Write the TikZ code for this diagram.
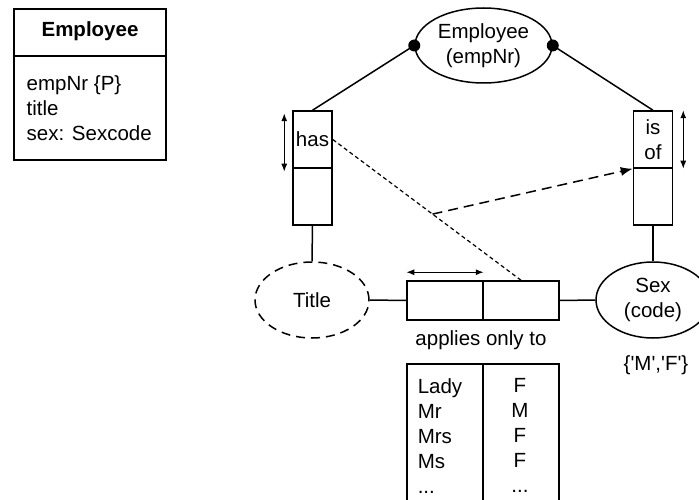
\documentclass[tikz,border=0pt]{standalone}
\usepackage{fontspec}
\setmainfont{Liberation Sans}
\usetikzlibrary{shapes.geometric,arrows.meta}

\tikzset{
  ent/.style={draw,ellipse,line width=1.5pt,minimum width=114pt,minimum height=76pt,inner sep=0pt,align=center},
  cell/.style={draw,rectangle,line width=1.5pt,minimum width=39pt,minimum height=57pt,inner sep=0pt,align=center},
  hcell/.style={draw,rectangle,line width=1.5pt,minimum width=76pt,minimum height=39pt,inner sep=0pt},
  uq/.style={line width=1.1pt,{Latex[length=8pt,width=6pt]}-{Latex[length=8pt,width=6pt]}},
}

\begin{document}
\begin{tikzpicture}[x=1pt,y=-1pt,font=\fontsize{20.5}{25}\selectfont,line width=1.5pt]
  \useasboundingbox (0,0) rectangle (699,500);
  % class box
  \draw (14,9) rectangle (166,160);
  \draw (14,56)--(166,56);
  \node[font=\fontsize{20.5}{25}\selectfont\bfseries] (clsName) at (90,31) {Employee};
  \node[anchor=north west,inner sep=0pt,align=left] (clsAttr) at (26,74.5) {empNr \{P\}\\title\\sex: Sexcode};
  % object types
  \node[ent,minimum width=137pt,minimum height=75pt] (emp) at (483.5,45.5) {Employee\\(empNr)};
  \node[ent,dashed,dash pattern=on 9pt off 6pt] (title) at (312,300) {Title};
  \node[ent] (sex) at (653,300) {Sex\\(code)};
  % roles
  \node[cell] (hasA) at (312.5,139.5) {has};
  \node[cell] (hasB) at (312.5,196.5) {};
  \node[cell] (isofA) at (653,139.5) {is\\of};
  \node[cell] (isofB) at (653,196.5) {};
  \node[hcell] (appA) at (445,300.5) {};
  \node[hcell] (appB) at (521,300.5) {};
  \fill (emp.west) circle (6);
  \fill (emp.east) circle (6);
  \draw (emp.west)--(hasA.north);
  \draw (emp.east)--(isofA.north);
  \draw (hasB.south)--(title.north);
  \draw (isofB.south)--(sex.north);
  \draw (title.east)--(appA.west);
  \draw (appB.east)--(sex.west);
  \draw[uq] ([xshift=-8pt,yshift=-3pt]hasA.north west)--([xshift=-8pt,yshift=-3pt]hasA.south west);
  \draw[uq] ([xshift=10pt]isofA.north east)--([xshift=10pt]isofA.south east);
  \draw[uq] ([yshift=8pt]appA.north west)--([yshift=8pt]appA.north east);
  % subset constraint
  \draw[line width=1.2pt,dash pattern=on 4pt off 3pt] (hasA.east)--coordinate[pos=.53] (sub) (appB.north);
  \draw[line width=1.5pt,dash pattern=on 10pt off 6pt,-{Latex[length=12pt,width=9pt]}] (sub)--(isofA.south west);
  \node (lbl) at (481,340) {applies only to};
  \node (sexVals) at (656,365) {\{\textquotesingle M\textquotesingle,\textquotesingle F\textquotesingle\}};
  % sample population
  \draw (407,505)--(407,364)--(559,364)--(559,505);
  \draw (483,364)--(483,505);
  \node[anchor=north west,inner sep=0pt,align=left] (popL) at (417,377.5) {Lady\\Mr\\Mrs\\Ms\\...};
  \node[anchor=north,inner sep=0pt,align=center] (popR) at (520,377.5) {F\\M\\F\\F\\...};
\end{tikzpicture}
\end{document}
